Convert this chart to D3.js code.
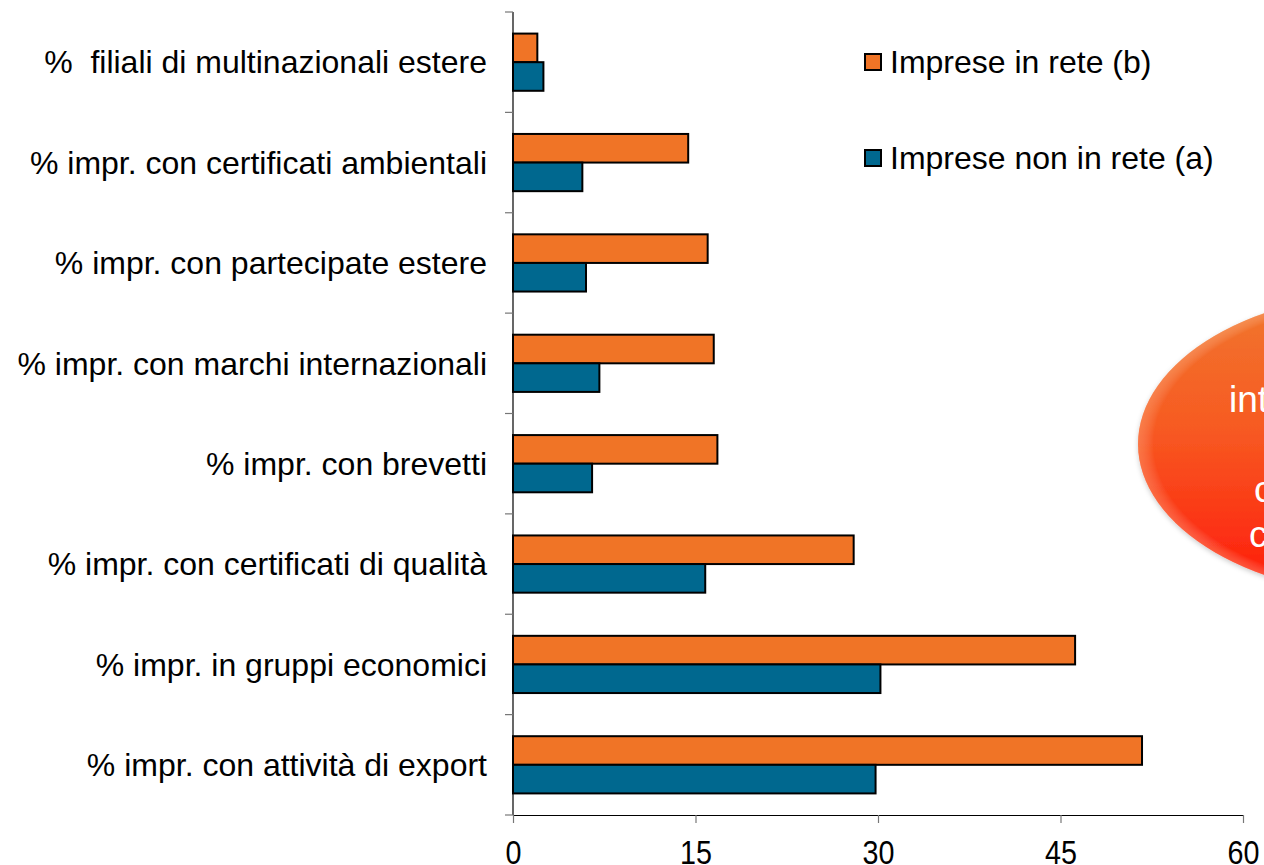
<!DOCTYPE html>
<html>
<head>
<meta charset="utf-8">
<script src="https://cdn.jsdelivr.net/npm/d3@7"></script>
<style>
  html, body { margin: 0; padding: 0; background: #fff; overflow: hidden; }
  svg { display: block; font-family: "Liberation Sans", Arial, sans-serif; }
  text { white-space: pre; }
</style>
</head>
<body>
<svg id="chart" width="1264" height="865"></svg>
<script>
// -------------------------
// Data
// -------------------------
const categories = [
    "%  filiali di multinazionali estere",
    "% impr. con certificati ambientali",
    "% impr. con partecipate estere",
    "% impr. con marchi internazionali",
    "% impr. con brevetti",
    "% impr. con certificati di qualità",
    "% impr. in gruppi economici",
    "% impr. con attività di export"
];
const seriesNames = ["Imprese in rete (b)", "Imprese non in rete (a)"];
const inRete = [2.0, 14.4, 16.0, 16.5, 16.8, 28.0, 46.2, 51.7];
const nonInRete = [2.5, 5.7, 6.0, 7.1, 6.5, 15.8, 30.2, 29.8];
const xTicks = [0, 15, 30, 45, 60];
const balloonLines = [
    {text: "int", line: 0},
    {text: "c", line: 2},
    {text: "c", line: 3}
];

const colors = ["#f07426", "#00688f"];

// -------------------------
// Chart
// -------------------------
const svg = d3.select("#chart");
const plotLeft = 513, plotRight = 1243, plotTop = 12, plotBottom = 815;

const x = d3.scaleLinear().domain([0, 60]).range([plotLeft, plotRight]);
const y = d3.scaleBand().domain(categories).range([plotTop, plotBottom])
    .paddingInner(0.43).paddingOuter(0.215);
const ySub = d3.scaleBand().domain([0, 1]).range([0, y.bandwidth()]);

const rows = categories.map((c, i) => ({cat: c, vals: [inRete[i], nonInRete[i]]}));

// balloon (partly off the page)
const defs = svg.append("defs");
const grad = defs.append("linearGradient").attr("id", "balloon")
    .attr("x1", 0).attr("y1", 0).attr("x2", 0).attr("y2", 1);
grad.append("stop").attr("offset", "0%").attr("stop-color", "#f0782f");
grad.append("stop").attr("offset", "45%").attr("stop-color", "#f75a22");
grad.append("stop").attr("offset", "100%").attr("stop-color", "#ff180a");
const rim = defs.append("radialGradient").attr("id", "rim")
    .attr("cx", "50%").attr("cy", "50%").attr("r", "50%");
rim.append("stop").attr("offset", "94%").attr("stop-color", "#fff").attr("stop-opacity", 0);
rim.append("stop").attr("offset", "100%").attr("stop-color", "#ffc8a0").attr("stop-opacity", 0.3);
const shade = defs.append("filter").attr("id", "shadow")
    .attr("x", "-20%").attr("y", "-20%").attr("width", "140%").attr("height", "140%");
shade.append("feDropShadow").attr("dx", 0).attr("dy", 2).attr("stdDeviation", 2.5)
    .attr("flood-color", "#000").attr("flood-opacity", 0.2);

const balloon = svg.append("g");
const ell = {cx: 1400, cy: 444, rx: 262, ry: 153};
balloon.append("ellipse")
    .attr("cx", ell.cx).attr("cy", ell.cy).attr("rx", ell.rx).attr("ry", ell.ry)
    .attr("fill", "url(#balloon)")
    .attr("filter", "url(#shadow)");
balloon.append("ellipse")
    .attr("cx", ell.cx).attr("cy", ell.cy).attr("rx", ell.rx).attr("ry", ell.ry)
    .attr("fill", "url(#rim)");
const lineX = [1229, null, 1254, 1249];
balloon.selectAll("text.bl")
    .data(balloonLines)
    .enter()
    .append("text")
    .attr("class", "bl")
    .attr("x", d => lineX[d.line])
    .attr("y", d => 412 + d.line * 45)
    .attr("fill", "#fff")
    .attr("font-size", 37)
    .text(d => d.text);

// bars
const groups = svg.selectAll("g.row")
    .data(rows)
    .enter()
    .append("g")
    .attr("class", "row")
    .attr("transform", d => `translate(0,${y(d.cat)})`);

groups.selectAll("rect")
    .data(d => d.vals.map((v, k) => ({v, k})))
    .enter()
    .append("rect")
    .attr("x", x(0))
    .attr("y", d => ySub(d.k))
    .attr("width", d => x(d.v) - x(0))
    .attr("height", ySub.bandwidth())
    .attr("fill", d => colors[d.k])
    .attr("stroke", "#000")
    .attr("stroke-width", 2);

// y axis with ticks between categories
const yAxisG = svg.append("g");
yAxisG.append("line")
    .attr("x1", plotLeft).attr("x2", plotLeft).attr("y1", plotTop).attr("y2", plotBottom)
    .attr("stroke", "#000").attr("stroke-width", 1.2);
const yTickPos = d3.range(categories.length + 1).map(i => plotTop + i * y.step());
yAxisG.selectAll("line.tk")
    .data(yTickPos)
    .enter()
    .append("line")
    .attr("class", "tk")
    .attr("x1", plotLeft - 8).attr("x2", plotLeft)
    .attr("y1", d => d).attr("y2", d => d)
    .attr("stroke", "#777").attr("stroke-width", 1.2);
yAxisG.selectAll("text")
    .data(categories)
    .enter()
    .append("text")
    .attr("x", 487)
    .attr("y", d => y(d) + y.bandwidth() / 2)
    .attr("dy", "0.35em")
    .attr("text-anchor", "end")
    .attr("font-size", 32)
    .attr("fill", "#000")
    .text(d => d);

// x axis
const xAxis = d3.axisBottom(x).tickValues(xTicks).tickSize(8).tickSizeOuter(0).tickPadding(0);
const xAxisG = svg.append("g")
    .attr("transform", `translate(0,${plotBottom})`)
    .call(xAxis);
xAxisG.select(".domain").attr("stroke", "#000").attr("stroke-width", 1.2);
xAxisG.selectAll(".tick line").attr("stroke", "#777").attr("stroke-width", 1.2);
xAxisG.selectAll(".tick text")
    .attr("font-size", 33)
    .attr("font-family", "'Liberation Sans', Arial, sans-serif")
    .attr("fill", "#000")
    .attr("dy", null)
    .attr("y", null)
    .attr("transform", "translate(0,49) scale(0.87,1)");

// legend
const legend = svg.append("g");
const legendY = [62, 158];
seriesNames.forEach((name, k) => {
    legend.append("rect")
        .attr("x", 865).attr("y", legendY[k] - 8)
        .attr("width", 16).attr("height", 16)
        .attr("fill", colors[k])
        .attr("stroke", "#000").attr("stroke-width", 2);
    legend.append("text")
        .attr("x", 890).attr("y", legendY[k])
        .attr("dy", "0.35em")
        .attr("font-size", 32)
        .attr("fill", "#000")
        .text(name);
});
</script>
</body>
</html>
